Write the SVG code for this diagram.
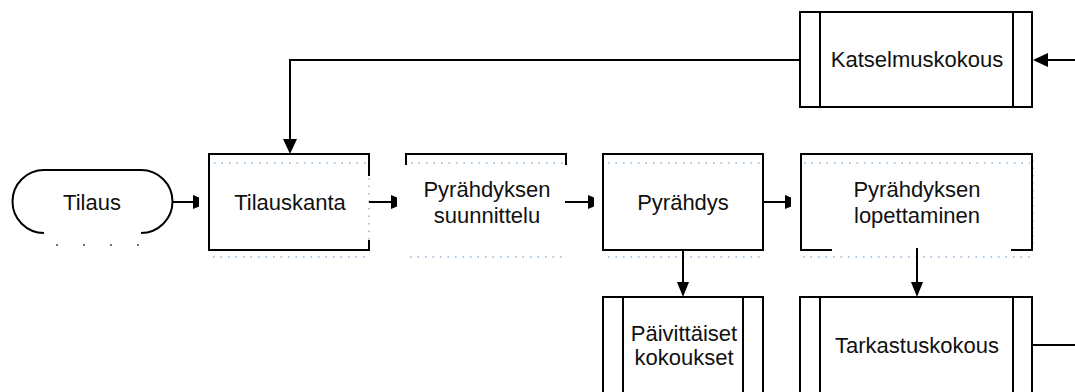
<svg xmlns="http://www.w3.org/2000/svg" width="1075" height="392" viewBox="0 0 1075 392">
<style>
.box{fill:none;stroke:#000;stroke-width:2}
.ln{fill:none;stroke:#000;stroke-width:2}
.hd{fill:#000;stroke:none}
.t{font-family:"Liberation Sans",Arial,sans-serif;font-size:22px;fill:#111;text-anchor:middle}
.dot{fill:none;stroke:#8fb6e0;stroke-width:1.5;stroke-dasharray:1.5 6}
</style>
<rect width="1075" height="392" fill="#fff"/>
<g id="artifacts">
<path class="dot" d="M213,257H370M410,257H567M608,257H763M803,257H1033"/>
<path class="dot" d="M214,163H368M411,163H565M608,163H762M804,163H1030"/>
<path class="dot" d="M369,178V240M1033,160V250"/>
<g fill="#444"><circle cx="57" cy="245" r="1"/><circle cx="84" cy="245" r="1"/><circle cx="111" cy="245" r="1"/><circle cx="138" cy="245" r="1"/></g>
</g>
<g id="connectors">
<path class="ln" d="M173,202H193"/>
<polygon class="hd" points="193,195 199,197.5 199,206.5 193,209"/>
<path class="ln" d="M369,202H391"/>
<polygon class="hd" points="391,195 397,197.5 397,206.5 391,209"/>
<path class="ln" d="M565,202H588"/>
<polygon class="hd" points="588,195 594,197.5 594,206.5 588,209"/>
<path class="ln" d="M763,202H785"/>
<polygon class="hd" points="785,195 791,197.5 791,206.5 785,209"/>
<path class="ln" d="M800,60H290V140"/>
<polygon class="hd" points="283,139 297,139 290,154"/>
<path class="ln" d="M1075,60H1047"/>
<polygon class="hd" points="1048,53 1048,67 1033,60"/>
<path class="ln" d="M683,250V283"/>
<polygon class="hd" points="677,282 689,282 683,297"/>
<path class="ln" d="M917,248V283"/>
<polygon class="hd" points="911,282 923,282 917,297"/>
<path class="ln" d="M1032,345H1075"/>
</g>
<g id="tilaus">
<path class="box" d="M44,233A31.5,31.5 0 0 1 44,170H141A31.5,31.5 0 0 1 141,233"/>
<text class="t" x="92" y="210">Tilaus</text>
</g>
<g id="tilauskanta">
<path class="box" d="M369,176V154H209V250H369V240"/>
<text class="t" x="290" y="210">Tilauskanta</text>
</g>
<g id="suunnittelu">
<path class="box" d="M406,165V154H566V165"/>
<text class="t" x="487" y="197">Pyrähdyksen</text>
<text class="t" x="487" y="223">suunnittelu</text>
</g>
<g id="pyrahdys">
<rect class="box" x="603" y="154" width="160" height="96"/>
<text class="t" x="683" y="210">Pyrähdys</text>
</g>
<g id="lopettaminen">
<path class="box" d="M832,250H801V154H1032V250H1011"/>
<text class="t" x="917" y="197">Pyrähdyksen</text>
<text class="t" x="917" y="223">lopettaminen</text>
</g>
<g id="katselmuskokous">
<rect class="box" x="800" y="12" width="232" height="95"/>
<path class="box" d="M820,12V107M1013,12V107"/>
<text class="t" x="917" y="67">Katselmuskokous</text>
</g>
<g id="paivittaiset">
<rect class="box" x="603" y="297" width="160" height="110"/>
<path class="box" d="M623,297V400M743,297V400"/>
<text class="t" x="684" y="341">Päivittäiset</text>
<text class="t" x="684" y="365">kokoukset</text>
</g>
<g id="tarkastuskokous">
<rect class="box" x="800" y="297" width="232" height="110"/>
<path class="box" d="M820,297V400M1013,297V400"/>
<text class="t" x="917" y="353">Tarkastuskokous</text>
</g>
</svg>
